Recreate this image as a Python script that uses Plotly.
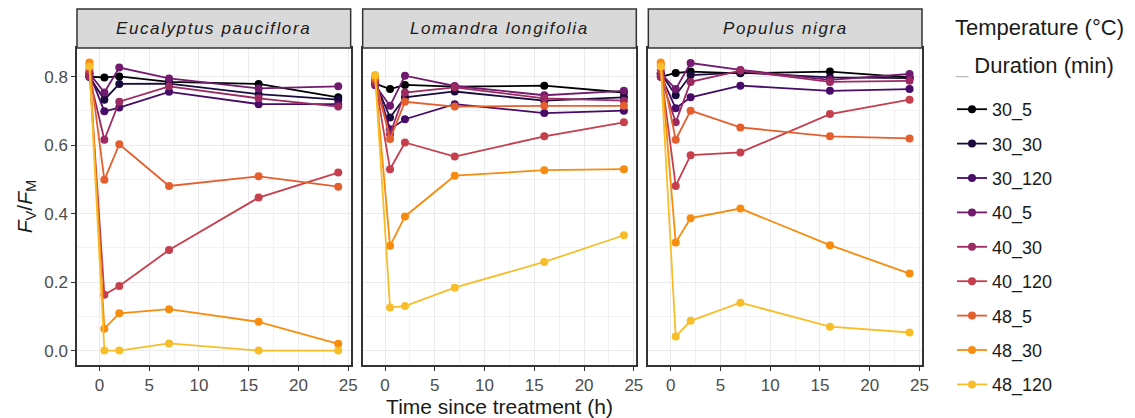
import plotly.graph_objects as go
from plotly.colors import sample_colorscale

# ---------------- data ----------------
times = [-1, 0.5, 2, 7, 16, 24]
groups = ["30_5", "30_30", "30_120", "40_5", "40_30", "40_120", "48_5", "48_30", "48_120"]
species = ["Eucalyptus pauciflora", "Lomandra longifolia", "Populus nigra"]

eucalyptus = [
    [0.800, 0.798, 0.801, 0.785, 0.779, 0.740],  # 30_5
    [0.800, 0.733, 0.779, 0.780, 0.749, 0.733],  # 30_30
    [0.810, 0.699, 0.710, 0.756, 0.720, 0.720],  # 30_120
    [0.810, 0.754, 0.827, 0.795, 0.766, 0.772],  # 40_5
    [0.800, 0.616, 0.727, 0.772, 0.737, 0.713],  # 40_30
    [0.820, 0.163, 0.189, 0.294, 0.447, 0.520],  # 40_120
    [0.835, 0.499, 0.603, 0.481, 0.509, 0.479],  # 48_5
    [0.842, 0.064, 0.109, 0.121, 0.084, 0.020],  # 48_30
    [0.830, 0.000, 0.000, 0.021, 0.000, 0.000],  # 48_120
]
lomandra = [
    [0.780, 0.764, 0.776, 0.771, 0.774, 0.754],
    [0.785, 0.681, 0.740, 0.757, 0.730, 0.740],
    [0.790, 0.647, 0.676, 0.720, 0.694, 0.701],
    [0.775, 0.715, 0.803, 0.773, 0.746, 0.759],
    [0.780, 0.632, 0.754, 0.769, 0.737, 0.730],
    [0.790, 0.530, 0.608, 0.567, 0.626, 0.667],
    [0.795, 0.618, 0.727, 0.713, 0.715, 0.715],
    [0.800, 0.306, 0.392, 0.511, 0.527, 0.530],
    [0.805, 0.126, 0.130, 0.184, 0.259, 0.337],
]
populus = [
    [0.800, 0.811, 0.815, 0.810, 0.815, 0.798],
    [0.810, 0.746, 0.805, 0.812, 0.798, 0.796],
    [0.805, 0.708, 0.740, 0.774, 0.759, 0.764],
    [0.810, 0.764, 0.840, 0.820, 0.791, 0.808],
    [0.800, 0.667, 0.785, 0.818, 0.785, 0.788],
    [0.820, 0.481, 0.571, 0.579, 0.691, 0.733],
    [0.835, 0.616, 0.701, 0.652, 0.626, 0.620],
    [0.842, 0.316, 0.387, 0.415, 0.308, 0.225],
    [0.830, 0.041, 0.087, 0.140, 0.070, 0.053],
]
panel_data = [eucalyptus, lomandra, populus]

x_ticks = [0, 5, 10, 15, 20, 25]
y_ticks = [0.0, 0.2, 0.4, 0.6, 0.8]
y_tick_labels = ["0.0", "0.2", "0.4", "0.6", "0.8"]

colors = sample_colorscale("Inferno", [i * 0.85 / 8 for i in range(9)])

# ---------------- figure ----------------
# the page body has an 8px margin, so the figure is 8px smaller in each direction
FONT = "Liberation Sans, Arial, sans-serif"
OFF = 8
W, H = 1135 - OFF, 418 - OFF
ml, mt = 77 - OFF, 48 - OFF
plot_right, plot_bottom = 922 - OFF, 365 - OFF
mr, mb = W - plot_right, H - plot_bottom
pw = W - ml - mr
ph = H - mt - mb
gap = 12
panel_w = (pw - 2 * gap) / 3
domains = []
for i in range(3):
    x0 = i * (panel_w + gap) / pw
    domains.append([x0, min(1.0, x0 + panel_w / pw)])


def px_x(x):
    return (x - OFF - ml) / pw


def px_y(y):
    return 1 - (y - OFF - mt) / ph


fig = go.Figure()
for p, data in enumerate(panel_data):
    xa = "x" if p == 0 else f"x{p+1}"
    ya = "y" if p == 0 else f"y{p+1}"
    for g, name in enumerate(groups):
        fig.add_trace(go.Scatter(
            x=times, y=data[g], mode="lines+markers", name=name,
            line=dict(color=colors[g], width=1.8),
            marker=dict(color=colors[g], size=8),
            xaxis=xa, yaxis=ya, showlegend=(p == 0), legendgroup=name,
        ))

axis_common = dict(
    showline=True, linecolor="#333333", linewidth=1.5, mirror=True,
    showgrid=True, gridcolor="#EBEBEB", gridwidth=1.2,
    zeroline=False, ticks="outside", ticklen=4, tickcolor="#333333", tickwidth=1.2,
    tickfont=dict(family=FONT, size=17, color="#4D4D4D"),
)
layout = dict(
    width=W, height=H, plot_bgcolor="white", paper_bgcolor="white",
    margin=dict(l=ml, r=mr, t=mt, b=mb, autoexpand=False),
    font=dict(family=FONT, color="#1A1A1A"),
)
for p in range(3):
    xk = "xaxis" if p == 0 else f"xaxis{p+1}"
    yk = "yaxis" if p == 0 else f"yaxis{p+1}"
    layout[xk] = dict(axis_common, domain=domains[p], range=[-2.25, 25.25],
                      tickvals=x_ticks, anchor="y" if p == 0 else f"y{p+1}",
                      minor=dict(dtick=2.5, tick0=0, showgrid=True, gridcolor="#F2F2F2", gridwidth=0.9, ticks=""))
    layout[yk] = dict(axis_common, domain=[0, 1], range=[-0.042, 0.884],
                      tickvals=y_ticks, ticktext=y_tick_labels,
                      anchor="x" if p == 0 else f"x{p+1}",
                      showticklabels=(p == 0), ticks="outside" if p == 0 else "",
                      minor=dict(dtick=0.1, tick0=0, showgrid=True, gridcolor="#F2F2F2", gridwidth=0.9, ticks=""))
    if p > 0:
        layout[yk]["matches"] = "y"
layout["xaxis2"]["title"] = dict(text="Time since treatment (h)", font=dict(size=21, color="#1A1A1A"), standoff=3)
layout["yaxis"]["title"] = dict(text="<i>F</i><sub>V</sub>/<i>F</i><sub>M</sub>", font=dict(size=21, color="#1A1A1A"), standoff=6)

fig.update_layout(**layout)

# strips
strip_h = 39 / ph
for p in range(3):
    xr = "x domain" if p == 0 else f"x{p+1} domain"
    fig.add_shape(type="rect", xref=xr, yref="paper", x0=0, x1=1, y0=1.0, y1=1 + strip_h,
                  fillcolor="#D9D9D9", line=dict(color="#333333", width=1.5), layer="above")
    fig.add_annotation(xref=xr, yref="paper", x=0.5, y=1 + strip_h / 2,
                       text=f"<span style='letter-spacing:1.6px'><i>{species[p]}</i></span>",
                       showarrow=False, xanchor="center", yanchor="middle",
                       font=dict(size=17, color="#1A1A1A"))

# legend title
fig.add_annotation(xref="paper", yref="paper", x=px_x(953), y=px_y(28),
                   text="Temperature (°C)", showarrow=False, xanchor="left", yanchor="middle",
                   font=dict(size=22, color="#1A1A1A"))
fig.add_annotation(xref="paper", yref="paper", x=px_x(953), y=px_y(65),
                   text="<span style='color:#BBBBBB'>_</span> Duration (min)", showarrow=False,
                   xanchor="left", yanchor="middle", font=dict(size=22, color="#1A1A1A"))

fig.update_layout(legend=dict(
    x=px_x(952), y=px_y(91), xanchor="left", yanchor="top",
    font=dict(size=18, color="#1A1A1A"), itemwidth=30, tracegroupgap=8,
    bgcolor="rgba(0,0,0,0)", traceorder="grouped", maxheight=H,
))

fig.write_html("out.html")
